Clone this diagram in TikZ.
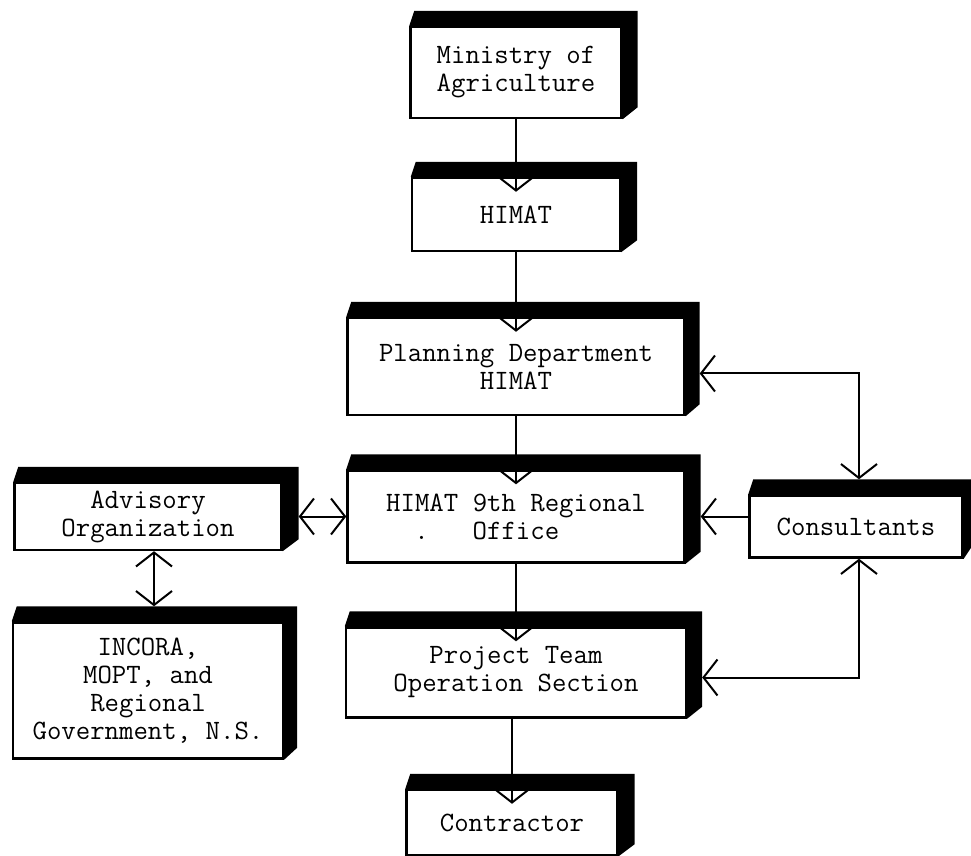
\documentclass[tikz,border=0pt]{standalone}
\usepackage{fontspec}
\usetikzlibrary{arrows.meta, positioning, calc}

\begin{document}
\begin{tikzpicture}[x=0.5pt,y=-0.5pt,node distance=75pt,on grid,>={Straight Barb[length=7pt,width=18pt]},line width=1pt,
		orgbox/.style={draw, line width=1.2pt, align=center, inner sep=0pt, font=\ttfamily\fontsize{14}{14}\selectfont},
		link/.style={->, shorten >=-7.5pt}]
		
		\useasboundingbox (0,0) rectangle (971,856);
		
		\node (min) [orgbox, minimum width=105.5pt, minimum height=45.5pt] at (516,72.5) {Ministry of\\Agriculture};
		\node (himat) [orgbox, below=71pt of min, minimum width=104pt, minimum height=36.5pt] {HIMAT};
		\node (plan) [orgbox, below=76pt of himat, minimum width=168.5pt, minimum height=48.5pt] {Planning Department\\HIMAT};
		\node (reg) [orgbox, below=75pt of plan, minimum width=168.5pt, minimum height=46pt] {HIMAT 9th Regional\\\llap{.\hspace{22pt}}Office};
		\node (proj) [orgbox, below=78pt of reg, minimum width=170pt, minimum height=45pt] {Project Team\\Operation Section};
		\node (contr) [orgbox, below=75pt of proj, xshift=-2pt, minimum width=105.5pt, minimum height=32.5pt] {Contractor};
		\node (adv) [orgbox, left=184pt of reg, minimum width=133.5pt, minimum height=33.5pt] {Advisory\\Organization};
		\node (inc) [orgbox, below=87pt of adv, minimum width=135pt, minimum height=68pt] {INCORA,\\MOPT, and\\Regional\\Government, N.S.};
		\node (cons) [orgbox, right=170pt of reg, yshift=-5pt, minimum width=106.5pt, minimum height=31pt] {Consultants};
		
		% solid top and right faces
		\foreach \n/\d in {min/15,himat/16,plan/14,reg/15,proj/15,contr/16,adv/16,inc/13,cons/8}
		\fill (\n.north west) -- ++(5,-15) -| ($(\n.south east)+(\d,-12)$) -- (\n.south east) -- (\n.north east) -- cycle;
		
		\path [link]
		(min.south) edge (himat.north)
		(himat.south) edge (plan.north)
		(plan.south) edge (reg.north)
		(reg.south) edge (proj.north)
		(contr.north |- proj.south) edge (contr.north);
		
		\draw [<->] ($(adv.east |- reg.west)+(16,0)$) -- (reg.west);
		\draw [<->] ($(adv.south)+(6,0)$) -- ($(inc.north)+(6,-15)$);
		\draw [<->] ($(plan.east)+(14,7)$) -| ($(cons.north)+(3,-15)$);
		\draw [->] (cons.west |- reg.east) -- ($(reg.east)+(15,0)$);
		\draw [<->] ($(cons.south)+(3,0)$) |- ($(proj.east)+(15,5)$);
	\end{tikzpicture}
\end{document}
